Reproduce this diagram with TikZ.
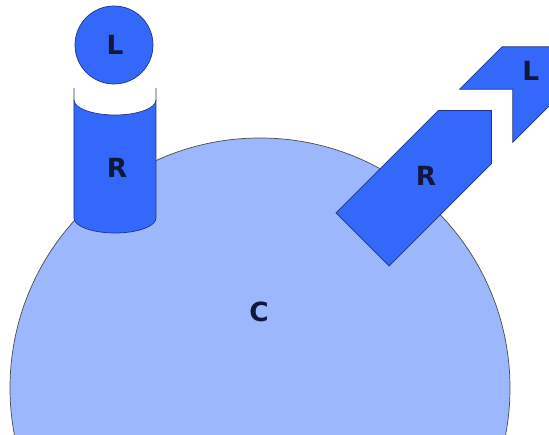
\documentclass[tikz,border=0pt]{standalone}
\usepackage{fontspec}
\setmainfont{DejaVu Sans}
\usepackage{xcolor}
\usepackage{tikz}
\usetikzlibrary{calc}

\definecolor{cellula}{RGB}{156,183,252}
\definecolor{recettore}{RGB}{52,104,250}
\definecolor{bordo}{RGB}{30,50,140}
\definecolor{scritta}{RGB}{18,24,60}

\begin{document}
\begin{tikzpicture}[
    x=0.02cm, y=0.02cm,
    cell/.style={fill=cellula, draw=black!70, thin},
    receptor/.style={fill=recettore, draw=bordo, thin, line join=miter},
    tag/.style={text=scritta, font=\bfseries\fontsize{15}{15}\selectfont, inner sep=0pt}
]

    % Metà larghezza e lunghezza del recettore inclinato
    \def\mezza{37.5}
    \def\lung{145}

    \useasboundingbox (0,0) rectangle (549,435);
    \clip (0,0) rectangle (549,435);

    % 1. La cellula
    \draw[cell] (260,47) circle[radius=250];
    \node[tag] (c) at (259,123) {C};

    % 2. Recettore cilindrico con il suo ligando sopra
    \fill[recettore] (74,217) arc[start angle=180, end angle=360, x radius=41, y radius=15]
        -- (156,335) -- (74,335) -- cycle;
    \fill[white] (115,335) ellipse[x radius=41, y radius=15];
    \draw[bordo, thin] (74,347) -- (74,217)
        arc[start angle=180, end angle=360, x radius=41, y radius=15] -- (156,347);
    \draw[bordo, thin] (74,335) arc[start angle=180, end angle=360, x radius=41, y radius=15];
    \node[tag] (r1) at (117,267) {R};

    \draw[receptor] (114,390) circle[radius=39];
    \node[tag] (l1) at (115,390) {L};

    % 3. Recettore a freccia e ligando a incastro (ruotati di 45 gradi)
    \begin{scope}[shift={(362.5,195.5)}, rotate=45]
        \draw[receptor] (0,-\mezza) -- (\lung,-\mezza) -- ({\lung+\mezza},0)
            -- (\lung,\mezza) -- (0,\mezza) -- cycle;
        \node[tag] (r2) at (90,0) {R};

        \draw[receptor] (175,\mezza) -- (235,\mezza) -- (272.5,0)
            -- (235,-\mezza) -- (175,-\mezza) -- (212.5,0) -- cycle;
        \node[tag] (l2) at (238,0) {L};
    \end{scope}

\end{tikzpicture}
\end{document}
